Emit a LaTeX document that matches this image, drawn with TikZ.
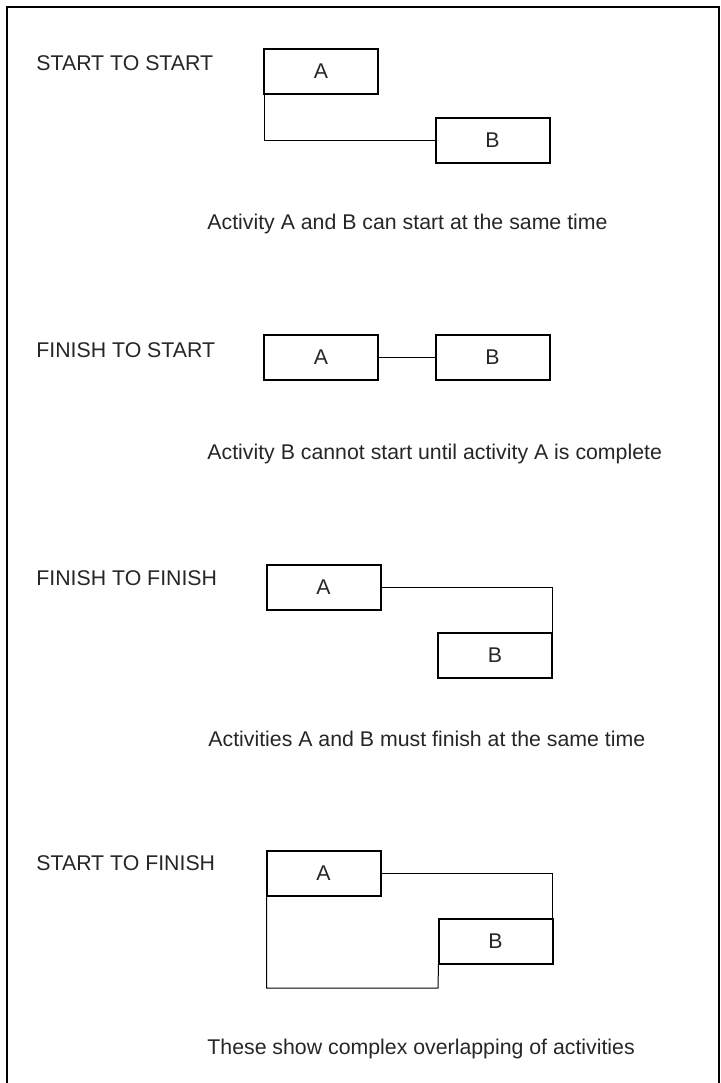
\documentclass[tikz,border=0pt]{standalone}
\usepackage{fontspec}
\setmainfont{Liberation Sans}
\begin{document}
\begin{tikzpicture}[x=0.5pt,y=-0.5pt,
        every node/.style={font=\fontsize{10.65}{13}\selectfont,text=black!85},
        activity/.style={draw,line width=1pt,minimum width=57pt,minimum height=22.5pt,inner sep=0pt,outer sep=0pt},
        kind/.style={anchor=base west,inner sep=0pt},
        note/.style={anchor=base west,inner sep=0pt},
        link/.style={line width=0.5pt}]
    \useasboundingbox (0,0) rectangle (720,1083);
    % frame, open at the bottom
    \draw[line width=0.6pt] (7,1083) -- (7,7) -- (719,7) -- (719,1083);
    % start to start
    \node[kind] (s2s) at (36,70.6) {START TO START};
    \node[activity] (a1) at (321,71) {A};
    \node[activity] (b1) at (492.5,140) {B};
    \draw[link] (a1.south west) |- (b1.west);
    \node[note] (n1) at (207,229.6) {Activity A and B can start at the same time};
    % finish to start
    \node[kind] (f2s) at (36,357.6) {FINISH TO START};
    \node[activity] (a2) at (321,357) {A};
    \node[activity] (b2) at (492.5,357) {B};
    \draw[link] (a2.east) -- (b2.west);
    \node[note] (n2) at (207,459.6) {Activity B cannot start until activity A is complete};
    % finish to finish
    \node[kind] (f2f) at (36,585.6) {FINISH TO FINISH};
    \node[activity] (a3) at (323.5,587) {A};
    \node[activity] (b3) at (495,655.5) {B};
    \draw[link] (a3.east) -| (b3.north east);
    \node[note] (n3) at (208,746) {Activities A and B must finish at the same time};
    % start to finish
    \node[kind] (s2f) at (36,870.6) {START TO FINISH};
    \node[activity] (a4) at (323.5,873.5) {A};
    \node[activity] (b4) at (495.5,941.5) {B};
    \coordinate (low4) at (438,988);
    \draw[link] (a4.east) -| (b4.north east);
    \draw[link] (a4.south west) |- (low4) -- (b4.south west);
    \node[note] (n4) at (207,1054) {These show complex overlapping of activities};
\end{tikzpicture}
\end{document}
